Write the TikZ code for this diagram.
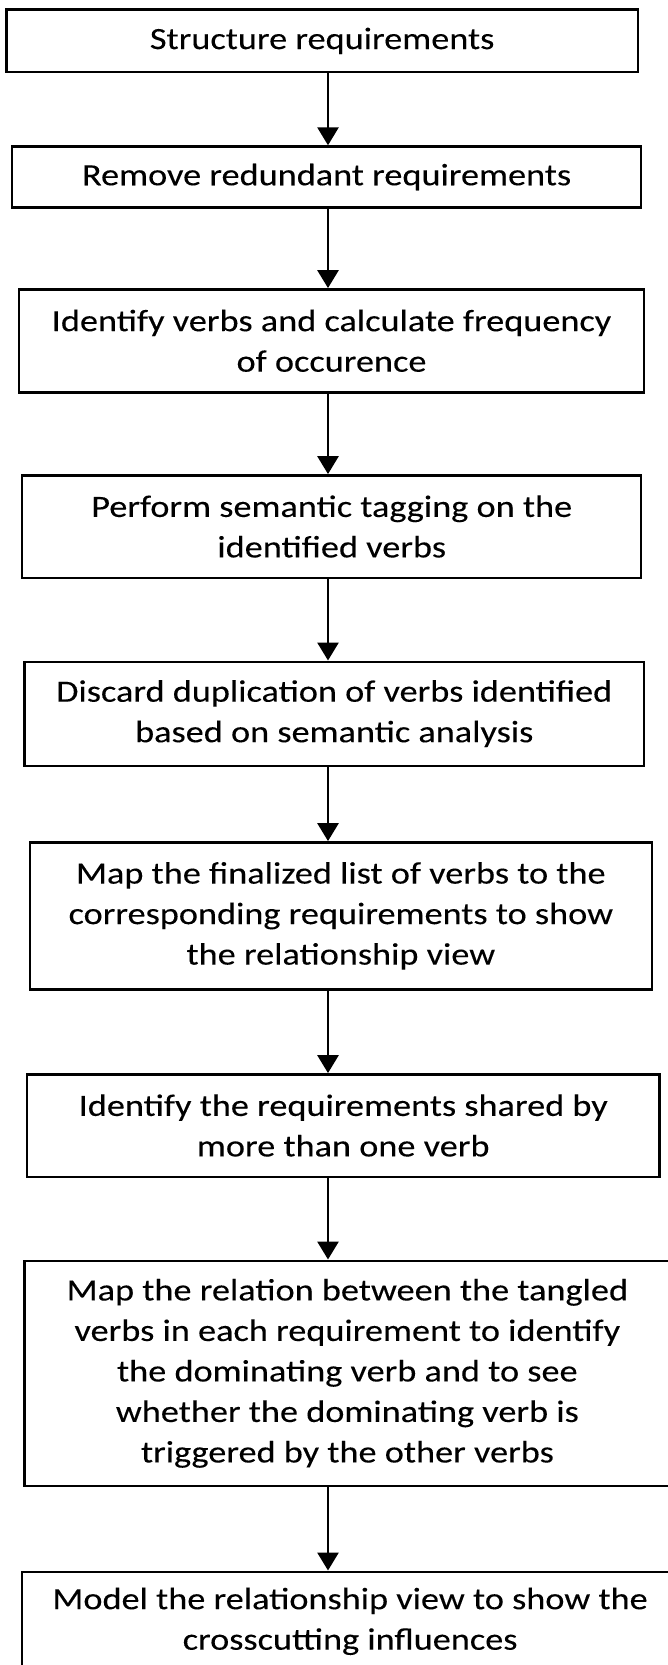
\documentclass[tikz,border=0pt]{standalone}
\usepackage{fontspec}
\setmainfont{Carlito}[FakeStretch=1.17,FakeBold=0.15]
\usetikzlibrary{arrows.meta}
\begin{document}
\begin{tikzpicture}[x=1bp,y=-1bp,
  stepbox/.style={draw=black,line width=2.4bp,rectangle,inner sep=0pt,align=center,
    font=\fontsize{31bp}{40.5bp}\selectfont},
  flow/.style={line width=2.8bp,-{Triangle[length=18bp,width=21bp]}}]
\clip (0,0) rectangle (668,1665);
% process steps, top to bottom
\node[stepbox,minimum width=631.4bp,minimum height=62.6bp] (b1) at (322.1,40.9)
  {Structure requirements};
\node[stepbox,minimum width=629.3bp,minimum height=61bp] (b2) at (326.55,177)
  {Remove redundant requirements};
\node[stepbox,minimum width=624.6bp,minimum height=103bp] (b3) at (331.5,340.8)
  {Identify verbs and calculate frequency\\of occurence};
\node[stepbox,minimum width=619bp,minimum height=102.4bp] (b4) at (331.7,526.5)
  {Perform semantic tagging on the\\identified verbs};
\node[stepbox,minimum width=619.1bp,minimum height=104bp] (b5) at (334.25,713.7)
  {Discard duplication of verbs identified\\based on semantic analysis};
\node[stepbox,minimum width=622.1bp,minimum height=147bp] (b6) at (340.85,915.8)
  {Map the finalized list of verbs to the\\corresponding requirements to show\\the relationship view};
\node[stepbox,minimum width=632.8bp,minimum height=102.4bp] (b7) at (343.2,1125.5)
  {Identify the requirements shared by\\more than one verb};
\node[stepbox,minimum width=645.3bp,minimum height=225.3bp] (b8) at (347.35,1373.35)
  {Map the relation between the tangled\\verbs in each requirement to identify\\the dominating verb and to see\\whether the dominating verb is\\triggered by the other verbs};
\node[stepbox,minimum width=655.8bp,minimum height=99.3bp] (b9) at (350.1,1621.35)
  {Model the relationship view to show the\\crosscutting influences};
% connectors run down one common vertical line
\coordinate (ax) at (328,0);
\draw[flow] (b1.south -| ax) -- (b2.north -| ax);
\draw[flow] (b2.south -| ax) -- (b3.north -| ax);
\draw[flow] (b3.south -| ax) -- (b4.north -| ax);
\draw[flow] (b4.south -| ax) -- (b5.north -| ax);
\draw[flow] (b5.south -| ax) -- (b6.north -| ax);
\draw[flow] (b6.south -| ax) -- (b7.north -| ax);
\draw[flow] (b7.south -| ax) -- (b8.north -| ax);
\draw[flow] (b8.south -| ax) -- (b9.north -| ax);
\end{tikzpicture}
\end{document}
